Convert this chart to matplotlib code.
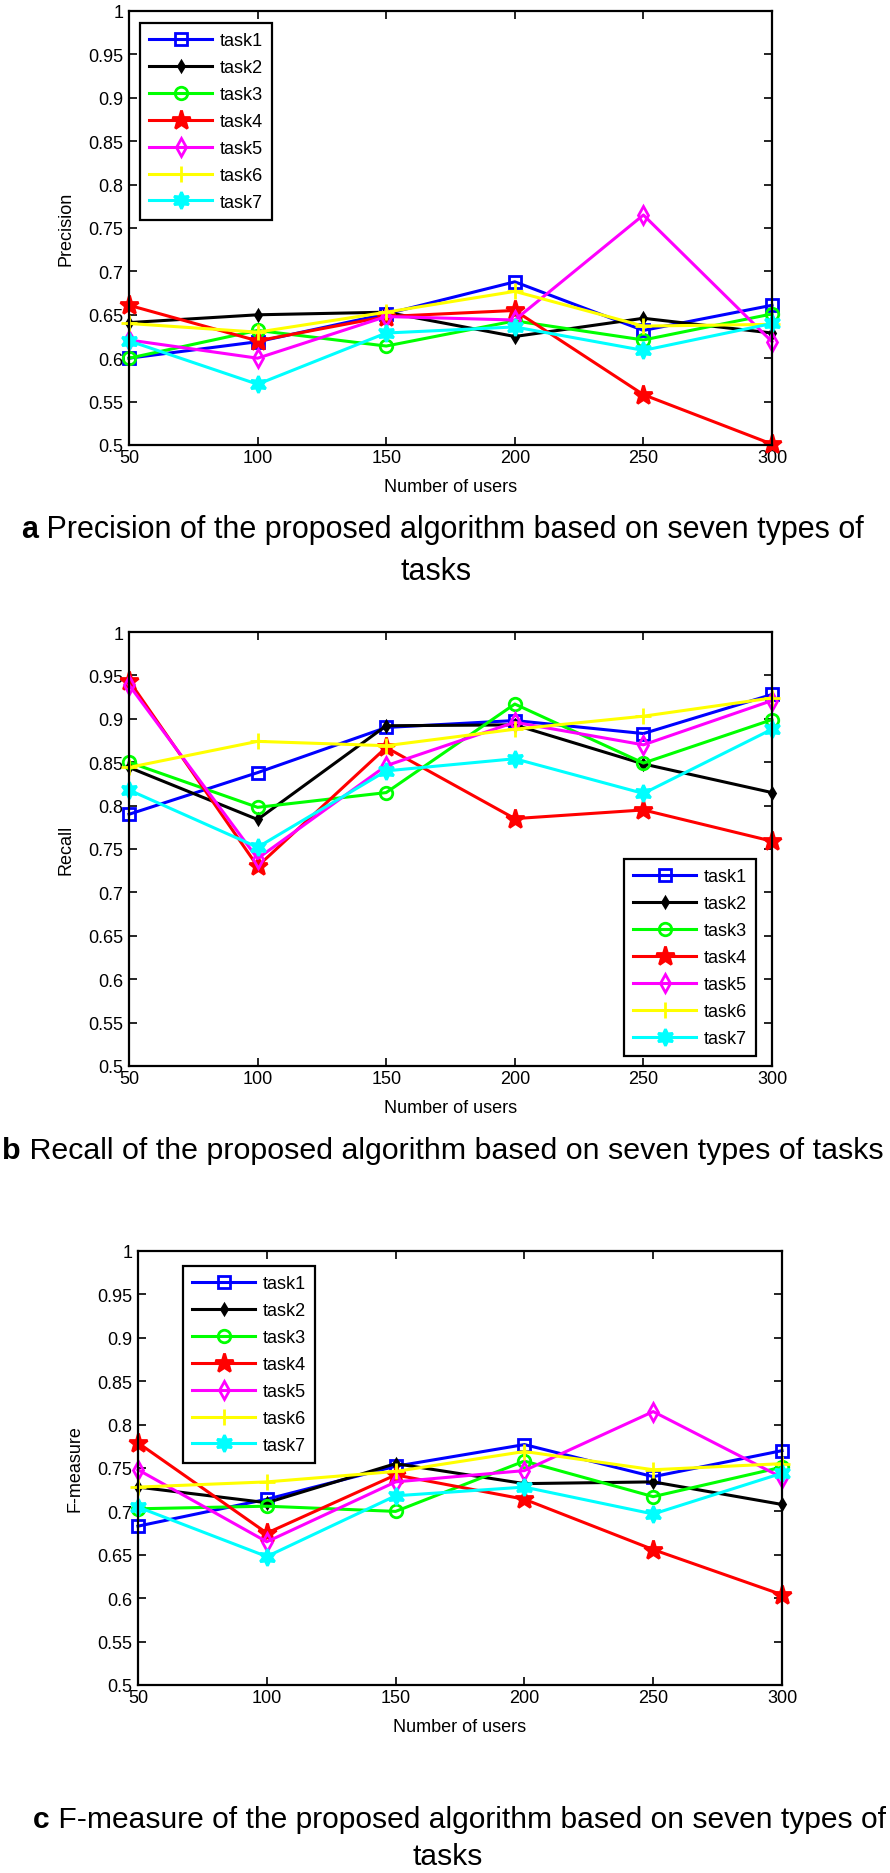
import numpy as np
import matplotlib
matplotlib.use("Agg")
import matplotlib.pyplot as plt
from matplotlib.ticker import FormatStrFormatter

## data
users = [50, 100, 150, 200, 250, 300]
task_names = ["task1", "task2", "task3", "task4", "task5", "task6", "task7"]

precision = [
    [0.600, 0.619, 0.651, 0.688, 0.632, 0.661],
    [0.641, 0.650, 0.653, 0.625, 0.646, 0.629],
    [0.600, 0.632, 0.614, 0.643, 0.621, 0.651],
    [0.661, 0.620, 0.648, 0.655, 0.558, 0.501],
    [0.621, 0.600, 0.648, 0.644, 0.765, 0.619],
    [0.640, 0.630, 0.653, 0.677, 0.637, 0.639],
    [0.620, 0.570, 0.629, 0.636, 0.609, 0.640],
]
recall = [
    [0.790, 0.838, 0.890, 0.898, 0.883, 0.928],
    [0.844, 0.784, 0.892, 0.893, 0.848, 0.815],
    [0.850, 0.798, 0.815, 0.917, 0.849, 0.899],
    [0.944, 0.730, 0.867, 0.785, 0.795, 0.759],
    [0.939, 0.739, 0.846, 0.896, 0.870, 0.921],
    [0.844, 0.874, 0.869, 0.888, 0.903, 0.924],
    [0.818, 0.752, 0.840, 0.854, 0.814, 0.888],
]
fmeasure = [
    [0.683, 0.714, 0.752, 0.777, 0.740, 0.770],
    [0.728, 0.710, 0.755, 0.732, 0.734, 0.708],
    [0.703, 0.706, 0.700, 0.758, 0.717, 0.751],
    [0.779, 0.675, 0.742, 0.714, 0.656, 0.604],
    [0.748, 0.665, 0.734, 0.747, 0.815, 0.739],
    [0.728, 0.734, 0.746, 0.769, 0.748, 0.755],
    [0.705, 0.648, 0.718, 0.728, 0.697, 0.744],
]

y_ticks = np.arange(0.5, 1.0001, 0.05)
x_ticks = users

## line styles (matlab defaults)
styles = [
    dict(color=(0, 0, 1), marker="s", mfc="none", ms=8),
    dict(color=(0, 0, 0), marker="d", mfc=(0, 0, 0), ms=5),
    dict(color=(0, 1, 0), marker="o", mfc="none", ms=9),
    dict(color=(1, 0, 0), marker="*", mfc=(1, 0, 0), ms=14),
    dict(color=(1, 0, 1), marker="d", mfc="none", ms=9),
    dict(color=(1, 1, 0), marker="+", ms=11),
    dict(color=(0, 1, 1), marker=(6, 1, 0), mfc=(0, 1, 1), ms=12),
]

plt.rcParams["font.family"] = ["Liberation Sans", "DejaVu Sans"]
plt.rcParams["font.size"] = 13

W, H = 890, 1874
fig = plt.figure(figsize=(W / 100, H / 100), dpi=100)


def px_axes(left, top, right, bottom):
    return fig.add_axes([left / W, 1 - bottom / H, (right - left) / W, (bottom - top) / H])


def draw_panel(ax, data, ylabel, legend_loc, legend_anchor, ylabel_x):
    for vals, name, st in zip(data, task_names, styles):
        ax.plot(users, vals, label=name, lw=2.2, mew=2, mec=st["color"],
                clip_on=False, **st)
    ax.set_xlim(50, 300)
    ax.set_ylim(0.5, 1.0)
    ax.set_xticks(x_ticks)
    ax.set_yticks(y_ticks)
    ax.yaxis.set_major_formatter(FormatStrFormatter("%g"))
    ax.tick_params(direction="in", top=True, right=True, length=6, width=1.2,
                   labelsize=13, pad=3)
    ax.tick_params(axis="y", pad=4)
    for sp in ax.spines.values():
        sp.set_linewidth(1.6)
    ax.set_xlabel("Number of users", fontsize=13)
    ax.xaxis.set_label_coords(0.5, -0.095)
    ax.xaxis.label.set_va("center")
    ax.set_ylabel(ylabel, fontsize=13)
    ax.yaxis.set_label_coords(ylabel_x, 0.5)
    ax.yaxis.label.set_va("center")
    leg = ax.legend(loc=legend_loc, bbox_to_anchor=legend_anchor, fontsize=13,
                    fancybox=False, edgecolor="black", framealpha=1,
                    borderaxespad=0, handlelength=3.5, handletextpad=0.4,
                    labelspacing=0.55, borderpad=0.5)
    leg.get_frame().set_linewidth(1.6)
    leg.set_zorder(5)


ax_a = px_axes(129, 12, 772, 446)
draw_panel(ax_a, precision, "Precision", "upper left", (0.017, 0.972), -0.098)

ax_b = px_axes(129, 633, 772, 1067)
draw_panel(ax_b, recall, "Recall", "lower right", (0.975, 0.023), -0.098)

ax_c = px_axes(138, 1252, 782, 1686)
draw_panel(ax_c, fmeasure, "F-measure", "upper left", (0.070, 0.965), -0.098)

## captions
cap_font = ["Liberation Sans", "DejaVu Sans"]


def caption(x, y, letter, rest, size):
    t = fig.text(x / W, 1 - y / H, letter, fontsize=size, fontweight="bold",
                 family=cap_font, va="baseline", ha="left")
    plt.annotate(" " + rest, xy=(1, 0), xycoords=t, va="bottom", ha="left",
                 fontsize=size, family=cap_font, annotation_clip=False)


caption(21, 538, "a", "Precision of the proposed algorithm based on seven types of", 22)
fig.text(436 / W, 1 - 572 / H, "tasks", fontsize=22, family=cap_font, ha="center", va="center")

caption(2, 1159, "b", "Recall of the proposed algorithm based on seven types of tasks", 21.9)

caption(33, 1828, "c", "F-measure of the proposed algorithm based on seven types of", 21.6)
fig.text(448 / W, 1 - 1857 / H, "tasks", fontsize=21.6, family=cap_font, ha="center", va="center")

fig.savefig("out.png", dpi=100)
